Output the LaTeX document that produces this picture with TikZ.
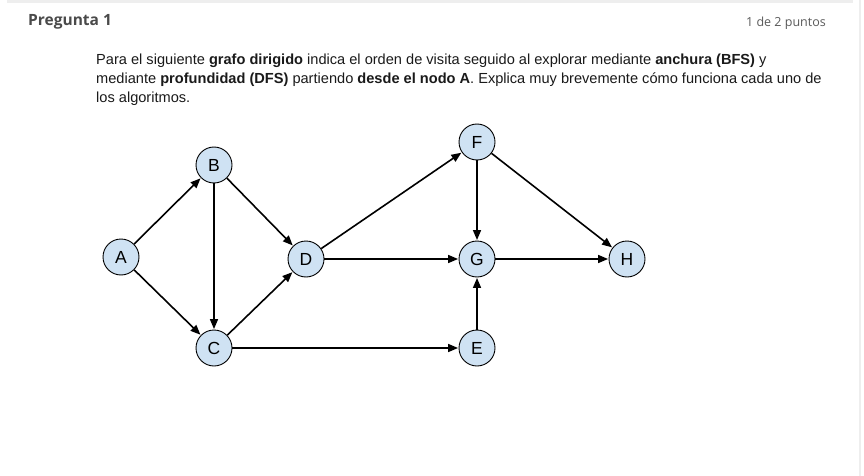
\documentclass[tikz,border=0pt]{standalone}
\usepackage{fontspec}
\setmainfont{Liberation Sans}
\newfontfamily\opensans{Open Sans}
\usetikzlibrary{arrows.meta}
\definecolor{nodefill}{HTML}{CFE2F3}
\definecolor{headgray}{HTML}{4A4A4A}
\definecolor{ptsgray}{HTML}{5A5A5A}
\definecolor{bordergray}{HTML}{EEEEEE}
\definecolor{bodytext}{HTML}{1A1A1A}
\tikzset{
  vert/.style={circle, draw=black, line width=0.9pt, fill=nodefill, minimum size=36pt, inner sep=0pt, font=\fontsize{17.5}{17.5}\selectfont},
  edge/.style={line width=1.6pt, -{Triangle[length=10pt,width=8pt]}, shorten >=0.5pt},
  bodyline/.style={anchor=base west, inner sep=0pt, font=\fontsize{14.6}{18}\selectfont, text=bodytext}
}
\begin{document}
\begin{tikzpicture}[x=1pt,y=-1pt]
\useasboundingbox[fill=white] (0,0) rectangle (864,476);
\fill[bordergray] (7,0) rectangle (853,3);
\fill[bordergray] (859,0) rectangle (861,476);
\node[anchor=base west, inner sep=0pt, text=headgray, font=\opensans\bfseries\fontsize{15.5}{16}\selectfont] (title) at (28,26) {Pregunta 1};
\node[anchor=base east, inner sep=0pt, text=ptsgray, font=\opensans\fontsize{12.5}{13}\selectfont] (pts) at (826,27) {1 de 2 puntos};
\node[bodyline] (l1) at (96,65) {Para el siguiente \textbf{grafo dirigido} indica el orden de visita seguido al explorar mediante \textbf{anchura (BFS)} y};
\node[bodyline] (l2) at (96,84) {mediante \textbf{profundidad (DFS)} partiendo \textbf{desde el nodo A}. Explica muy brevemente cómo funciona cada uno de};
\node[bodyline] (l3) at (96,102.5) {los algoritmos.};
\node[vert] (A) at (121,257) {A};
\node[vert] (B) at (214,165) {B};
\node[vert] (C) at (214,348) {C};
\node[vert] (D) at (306,259) {D};
\node[vert] (F) at (477,142) {F};
\node[vert] (G) at (477,259) {G};
\node[vert] (E) at (477,348) {E};
\node[vert] (H) at (627,259) {H};
\draw[edge] (A) -- (B);
\draw[edge] (A) -- (C);
\draw[edge] (B) -- (C);
\draw[edge] (B) -- (D);
\draw[edge] (C) -- (D);
\draw[edge] (C) -- (E);
\draw[edge] (D) -- (F);
\draw[edge] (D) -- (G);
\draw[edge] (F) -- (G);
\draw[edge] (F) -- (H);
\draw[edge] (G) -- (H);
\draw[edge] (E) -- (G);
\end{tikzpicture}
\end{document}
